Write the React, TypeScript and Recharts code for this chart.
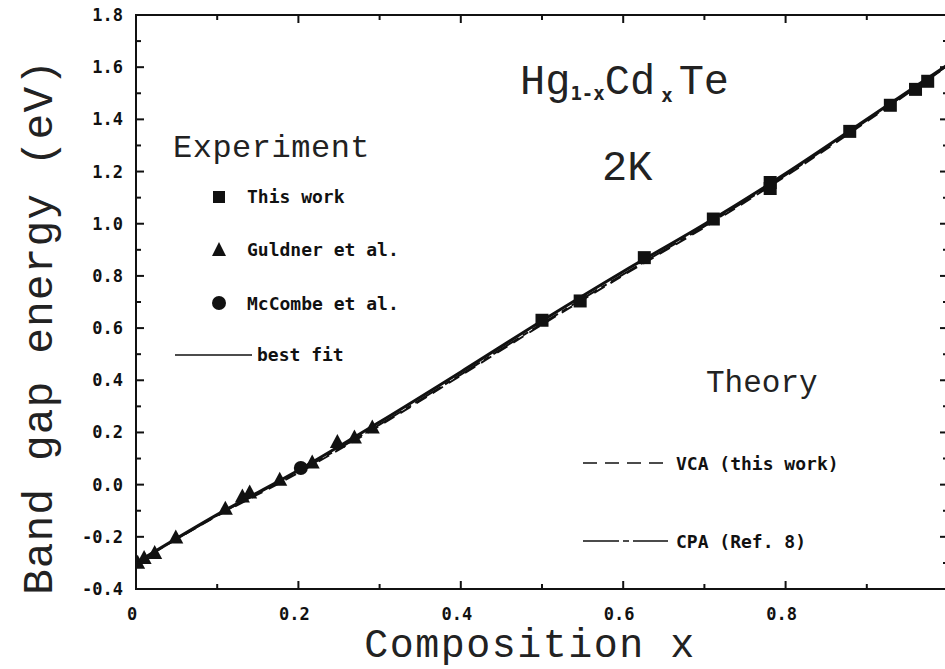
import React from 'react';
import { ComposedChart, Line, Scatter, XAxis, YAxis, ReferenceArea } from 'recharts';

// Experimental points: composition x and band gap (eV)
const thisWorkX = [0.500, 0.547, 0.626, 0.711, 0.781, 0.781, 0.879, 0.929, 0.960, 0.975];
const thisWorkE = [0.630, 0.704, 0.870, 1.018, 1.158, 1.135, 1.354, 1.454, 1.515, 1.546];

const guldnerX = [0.002, 0.010, 0.023, 0.049, 0.110, 0.131, 0.140, 0.177, 0.217, 0.248, 0.269, 0.291];
const guldnerE = [-0.299, -0.281, -0.262, -0.203, -0.092, -0.045, -0.030, 0.019, 0.085, 0.163, 0.181, 0.219];

const mccombeX = [0.203];
const mccombeE = [0.064];

// Curves
const curveX = [0, 0.1, 0.2, 0.3, 0.4, 0.5, 0.6, 0.7, 0.8, 0.9, 1.0];
const bestFitE = [-0.30, -0.115, 0.055, 0.24, 0.432, 0.628, 0.817, 0.998, 1.192, 1.40, 1.61];
const vcaE = [-0.30, -0.12, 0.045, 0.226, 0.418, 0.613, 0.802, 0.986, 1.182, 1.392, 1.605];
const cpaE = [-0.30, -0.118, 0.05, 0.23, 0.422, 0.617, 0.806, 0.99, 1.186, 1.396, 1.607];

// major ticks carry a label; the 1.0 label falls outside the cropped picture
const xTicks = [0, 0.1, 0.2, 0.3, 0.4, 0.5, 0.6, 0.7, 0.8, 0.9, 1.0];
const xTickLabels = ['0', '', '0.2', '', '0.4', '', '0.6', '', '0.8', '', ''];
const xMajor = [true, false, true, false, true, false, true, false, true, false, true];
const yTicks = [-0.4, -0.3, -0.2, -0.1, 0, 0.1, 0.2, 0.3, 0.4, 0.5, 0.6, 0.7, 0.8, 0.9, 1.0, 1.1, 1.2, 1.3, 1.4, 1.5, 1.6, 1.7, 1.8];
const yTickLabels = ['-0.4', '', '-0.2', '', '0.0', '', '0.2', '', '0.4', '', '0.6', '', '0.8', '', '1.0', '', '1.2', '', '1.4', '', '1.6', '', '1.8'];

const zip = (xs: number[], ys: number[]) => xs.map((x, i) => ({ x, y: ys[i] }));

const W = 952;
const H = 669;
const M = { top: 15, right: 4, bottom: 79, left: 135 };
const LEFT = 136;
const RIGHT = W - M.right;
const TOP = M.top;
const BOTTOM = 589;

const INK = '#111';
const tickFont = { fontFamily: '"DejaVu Sans Mono", monospace', fontWeight: 700, fontSize: 17, fill: INK };
const thinFont = { fontFamily: '"Liberation Mono", monospace', fill: '#222' };

const indexOf = (ticks: number[], v: number) => ticks.findIndex((t) => Math.abs(t - v) < 1e-6);

const renderXTick = (props: any) => {
  const { x, payload } = props;
  const i = indexOf(xTicks, payload.value);
  const label = i >= 0 ? xTickLabels[i] : '';
  const len = i >= 0 && xMajor[i] ? 8 : 5;
  return (
    <g key={`xt-${payload.value}`}>
      <line x1={x} x2={x} y1={BOTTOM} y2={BOTTOM - len} stroke={INK} strokeWidth={2} />
      <line x1={x} x2={x} y1={TOP} y2={TOP + len} stroke={INK} strokeWidth={2} />
      {label && (
        <text x={x - 4} y={BOTTOM + 31} textAnchor="middle" {...tickFont}>
          {label}
        </text>
      )}
    </g>
  );
};

const renderYTick = (props: any) => {
  const { y, payload } = props;
  const i = indexOf(yTicks, payload.value);
  const label = i >= 0 ? yTickLabels[i] : '';
  const len = label ? 8 : 5;
  return (
    <g key={`yt-${payload.value}`}>
      <line x1={LEFT} x2={LEFT + len} y1={y} y2={y} stroke={INK} strokeWidth={2} />
      <line x1={RIGHT} x2={RIGHT - len} y1={y} y2={y} stroke={INK} strokeWidth={2} />
      {label && (
        <text x={LEFT - 13} y={y + 6} textAnchor="end" {...tickFont}>
          {label}
        </text>
      )}
    </g>
  );
};

const Square = (p: any) => <rect x={p.cx - 6.5} y={p.cy - 6.5} width={13} height={13} fill={INK} />;
const Triangle = (p: any) => (
  <polygon points={`${p.cx},${p.cy - 8} ${p.cx - 7.5},${p.cy + 6} ${p.cx + 7.5},${p.cy + 6}`} fill={INK} />
);
const Dot = (p: any) => <circle cx={p.cx} cy={p.cy} r={7} fill={INK} />;

const Annotations = () => (
  <svg width={945} height={669} style={{ position: 'absolute', left: 0, top: 0, pointerEvents: 'none' }}>
    {/* compound & temperature */}
    <text x={520} y={94} fontSize={42} {...thinFont}>
      Hg
      <tspan fontSize={19} fontWeight={700} fontFamily='"DejaVu Sans Mono", monospace' dy={6}>1-x</tspan>
      <tspan dy={-6}>Cd</tspan>
      <tspan fontSize={19} fontWeight={700} fontFamily='"DejaVu Sans Mono", monospace' dy={8} dx={6}>x</tspan>
      <tspan dy={-8} dx={6}>Te</tspan>
    </text>
    <text x={602} y={180} fontSize={42} {...thinFont}>2K</text>

    {/* experiment legend */}
    <text x={173} y={157} fontSize={32} letterSpacing={0.5} {...thinFont}>Experiment</text>
    <rect x={213} y={191} width={12} height={12} fill={INK} />
    <text x={247} y={203} {...tickFont} fontSize={18}>This work</text>
    <polygon points="219,242 212,256 226,256" fill={INK} />
    <text x={247} y={256} {...tickFont} fontSize={18}>Guldner et al.</text>
    <circle cx={219} cy={303} r={7} fill={INK} />
    <text x={247} y={310} {...tickFont} fontSize={18}>McCombe et al.</text>
    <line x1={175} x2={252} y1={355} y2={355} stroke={INK} strokeWidth={1.5} />
    <text x={257} y={361} {...tickFont} fontSize={18}>best fit</text>

    {/* theory legend */}
    <text x={706} y={392} fontSize={31} {...thinFont}>Theory</text>
    <line x1={583} x2={668} y1={463} y2={463} stroke={INK} strokeWidth={1.5} strokeDasharray="14 8" />
    <text x={676} y={470} {...tickFont} fontSize={18}>VCA (this work)</text>
    <line x1={583} x2={668} y1={541} y2={541} stroke={INK} strokeWidth={1.5} strokeDasharray="36 4 6 4" />
    <text x={676} y={548} {...tickFont} fontSize={18}>CPA (Ref. 8)</text>

    {/* axis titles */}
    <text x={530} y={657} fontSize={40} textAnchor="middle" letterSpacing={1.5} {...thinFont}>Composition x</text>
    <text
      x={0}
      y={0}
      fontSize={43}
      textAnchor="middle"
      letterSpacing={1}
      transform="translate(52,327) rotate(-90)"
      {...thinFont}
    >
      Band gap energy (eV)
    </text>
  </svg>
);

export default function App() {
  return (
    <div style={{ position: 'absolute', left: 0, top: 0, width: 945, height: 669, overflow: 'hidden', background: '#fff' }}>
      <ComposedChart width={W} height={H} margin={M}>
        <XAxis
          type="number"
          dataKey="x"
          domain={[0, 1]}
          ticks={xTicks}
          interval={0}
          tick={renderXTick}
          tickLine={false}
          height={1}
          axisLine={{ stroke: INK, strokeWidth: 2 }}
          allowDataOverflow
        />
        <YAxis
          type="number"
          dataKey="y"
          domain={[-0.4, 1.8]}
          ticks={yTicks}
          interval={0}
          tick={renderYTick}
          tickLine={false}
          width={1}
          axisLine={{ stroke: INK, strokeWidth: 2 }}
          allowDataOverflow
        />
        <ReferenceArea x1={0} x2={1} y1={-0.4} y2={1.8} fill="none" stroke={INK} strokeWidth={2} fillOpacity={0} />
        <Line data={zip(curveX, vcaE)} dataKey="y" type="monotone" stroke={INK} strokeWidth={2} strokeDasharray="12 7" dot={false} isAnimationActive={false} />
        <Line data={zip(curveX, cpaE)} dataKey="y" type="monotone" stroke={INK} strokeWidth={2} strokeDasharray="30 5 6 5" dot={false} isAnimationActive={false} />
        <Line data={zip(curveX, bestFitE)} dataKey="y" type="monotone" stroke={INK} strokeWidth={3} dot={false} isAnimationActive={false} />
        <Scatter data={zip(guldnerX, guldnerE)} shape={Triangle} isAnimationActive={false} />
        <Scatter data={zip(mccombeX, mccombeE)} shape={Dot} isAnimationActive={false} />
        <Scatter data={zip(thisWorkX, thisWorkE)} shape={Square} isAnimationActive={false} />
      </ComposedChart>
      <Annotations />
    </div>
  );
}
